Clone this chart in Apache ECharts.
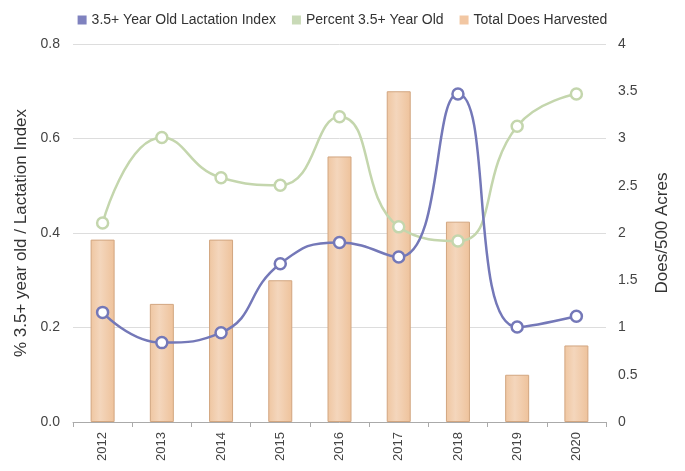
<!DOCTYPE html>
<html>
<head>
<meta charset="utf-8">
<script src="https://cdn.jsdelivr.net/npm/echarts@6/dist/echarts.min.js"></script>
<style>
  html, body { margin: 0; padding: 0; background: #fff; }
  #chart { width: 685px; height: 471px; }
</style>
</head>
<body>
<div id="chart"></div>
<script>
const years = ['2012', '2013', '2014', '2015', '2016', '2017', '2018', '2019', '2020']
const lactationIndex = [0.232, 0.168, 0.189, 0.335, 0.380, 0.349, 0.694, 0.201, 0.224]
const percentOld = [0.421, 0.602, 0.517, 0.501, 0.646, 0.413, 0.383, 0.626, 0.694]
const doesHarvested = [1.93, 1.25, 1.93, 1.50, 2.81, 3.50, 2.12, 0.50, 0.81]

const purple = '#7478b8'
const green = '#c4d6ad'
const labelFont = 'Liberation Sans, Arial, sans-serif'

const chart = echarts.init(document.getElementById('chart'))

chart.setOption({
  animation: false,
  textStyle: { fontFamily: labelFont },
  legend: {
    top: 8,
    left: 'center',
    icon: 'rect',
    itemWidth: 9,
    itemHeight: 9,
    itemGap: 16,
    textStyle: { fontSize: 14, color: '#333' },
    data: [
      { name: '3.5+ Year Old Lactation Index', itemStyle: { color: '#7f82bf', borderWidth: 0 } },
      { name: 'Percent 3.5+ Year Old', itemStyle: { color: '#c9dab7', borderWidth: 0 } },
      { name: 'Total Does Harvested', itemStyle: { color: '#f2c7a3', borderWidth: 0 } }
    ]
  },
  grid: { left: 73, right: 79, top: 44, bottom: 49 },
  xAxis: {
    type: 'category',
    data: years,
    axisLine: { lineStyle: { color: '#aaa' } },
    axisTick: { show: true, length: 5, lineStyle: { color: '#aaa' } },
    axisLabel: { rotate: 90, color: '#444', fontSize: 13, margin: 10 }
  },
  yAxis: [
    {
      type: 'value',
      min: 0, max: 0.8, interval: 0.2,
      name: '% 3.5+ year old / Lactation Index',
      nameLocation: 'middle',
      nameGap: 43,
      nameTextStyle: { fontSize: 17, color: '#333' },
      axisLine: { show: false },
      axisTick: { show: false },
      axisLabel: { color: '#444', fontSize: 14, margin: 13, formatter: v => v.toFixed(1) },
      splitLine: { lineStyle: { color: '#ddd' } }
    },
    {
      type: 'value',
      min: 0, max: 4, interval: 0.5,
      name: 'Does/500 Acres',
      nameLocation: 'middle',
      nameGap: 48,
      nameTextStyle: { fontSize: 17, color: '#333' },
      axisLine: { show: false },
      axisTick: { show: false },
      axisLabel: { color: '#444', fontSize: 14, margin: 12 },
      splitLine: { show: false }
    }
  ],
  series: [
    {
      name: 'Total Does Harvested',
      type: 'bar',
      yAxisIndex: 1,
      data: doesHarvested,
      barWidth: 24,
      z: 1,
      itemStyle: {
        color: new echarts.graphic.LinearGradient(0, 0, 1, 0, [
          { offset: 0, color: '#efc6a1' },
          { offset: 0.4, color: '#f4d6bc' },
          { offset: 1, color: '#eec29b' }
        ]),
        borderColor: '#d2a680',
        borderWidth: 1
      }
    },
    {
      name: '3.5+ Year Old Lactation Index',
      type: 'line',
      data: lactationIndex,
      smooth: 0.5,
      symbol: 'circle',
      symbolSize: 11,
      z: 3,
      lineStyle: { color: purple, width: 2.5 },
      itemStyle: { color: '#fff', borderColor: purple, borderWidth: 2.5 }
    },
    {
      name: 'Percent 3.5+ Year Old',
      type: 'line',
      data: percentOld,
      smooth: 0.5,
      symbol: 'circle',
      symbolSize: 11,
      z: 2,
      lineStyle: { color: green, width: 2.5 },
      itemStyle: { color: '#fff', borderColor: green, borderWidth: 2.5 }
    }
  ]
})

window.addEventListener('resize', () => chart.resize())
</script>
</body>
</html>
